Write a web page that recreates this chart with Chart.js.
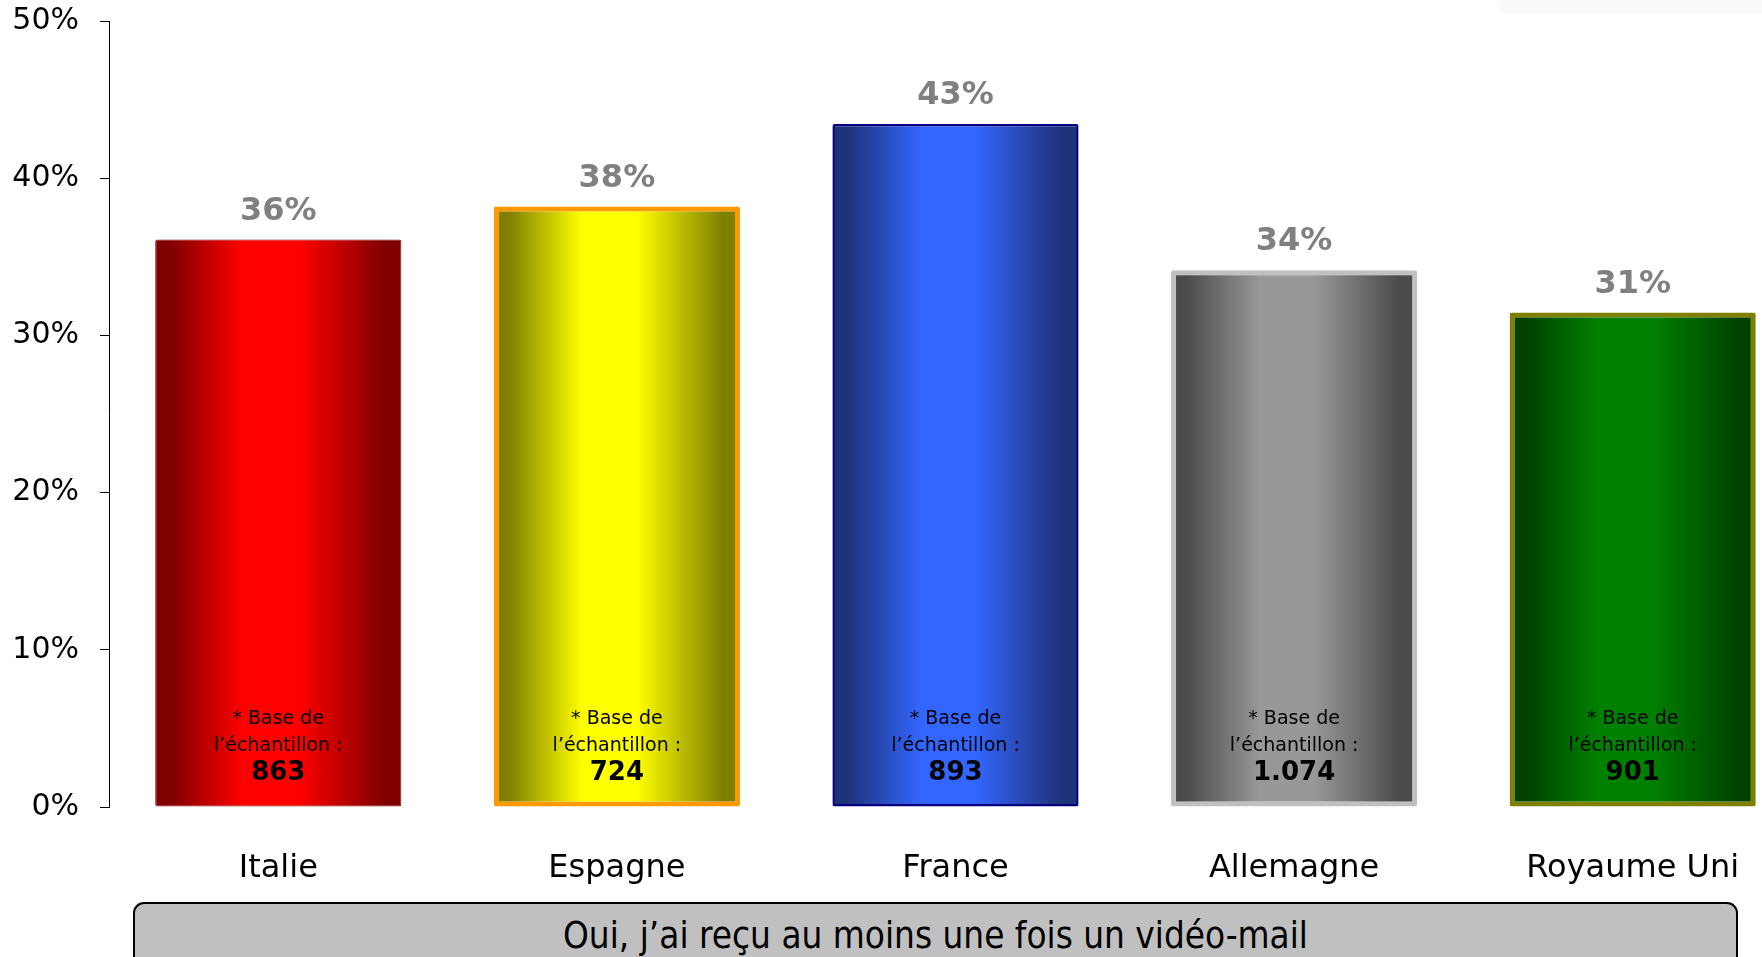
<!DOCTYPE html>
<html><head><meta charset="utf-8">
<script src="https://cdn.jsdelivr.net/npm/chart.js@4.4.1/dist/chart.umd.min.js"></script>
<style>
html,body{margin:0;padding:0;background:#fff;width:1762px;height:957px;overflow:hidden;position:relative;}
#wrap{position:absolute;left:0;top:0;width:1802px;height:957px;}
#faint{position:absolute;left:1499px;top:0;width:263px;height:13px;background:#FAFAFA;}
#box{position:absolute;left:133px;top:902px;width:1605px;height:90px;box-sizing:border-box;background:#C0C0C0;border:2px solid #000;border-radius:11px;}
#boxText{position:absolute;left:0;right:0;top:12px;text-align:center;font-family:'DejaVu Sans',sans-serif;font-size:38px;line-height:38px;color:#000;transform:scaleX(0.865);white-space:nowrap;}
</style>
</head><body>
<div id="faint"></div>
<div id="wrap"><canvas id="c" width="1802" height="957"></canvas></div>
<div id="box"><div id="boxText">Oui, j’ai reçu au moins une fois un vidéo-mail</div></div>
<script>
const categories = ['Italie', 'Espagne', 'France', 'Allemagne', 'Royaume Uni'];
const values = [36.1, 38.2, 43.45, 34.15, 31.45];
const sampleSizes = ['863', '724', '893', '1.074', '901'];
const yTickValues = [0, 10, 20, 30, 40, 50];

const edgeColors = ['#800000', '#7F7F00', '#1E3278', '#4A4A4A', '#004000'];
const centerColors = ['#FF0000', '#FFFF00', '#3366FF', '#989898', '#008000'];
const borderColors = ['#800000', '#FF9900', '#000080', '#C0C0C0', '#808000'];
const borderWidths = [1, 5, 2.5, 5, 5];
const barPct = 0.727;
const FONT = "'DejaVu Sans', sans-serif";

function barGradient(c) {
  const chart = c.chart, i = c.dataIndex;
  if (!chart.chartArea || !chart.scales.x) return centerColors[i];
  const xs = chart.scales.x;
  const cx = xs.getPixelForValue(i);
  const half = xs.width / categories.length * barPct / 2;
  const g = chart.ctx.createLinearGradient(cx - half, 0, cx + half, 0);
  const e = edgeColors[i], m = centerColors[i];
  g.addColorStop(0, e); g.addColorStop(0.06, e);
  g.addColorStop(0.36, m); g.addColorStop(0.58, m);
  g.addColorStop(0.93, e); g.addColorStop(1, e);
  return g;
}

const labelPlugin = {
  id: 'barTexts',
  afterDatasetsDraw(chart) {
    const ctx = chart.ctx;
    const meta = chart.getDatasetMeta(0);
    meta.data.forEach((bar, i) => {
      ctx.save();
      ctx.textAlign = 'center';
      ctx.textBaseline = 'middle';
      ctx.fillStyle = '#808080';
      ctx.font = 'bold 32px ' + FONT;
      ctx.fillText(Math.round(values[i]) + '%', bar.x, bar.y - 28);
      ctx.fillStyle = '#000';
      ctx.font = '19px ' + FONT;
      ctx.fillText('* Base de', bar.x, bar.base - 87);
      ctx.fillText('l’échantillon :', bar.x, bar.base - 60);
      ctx.font = 'bold 26px ' + FONT;
      ctx.fillText(sampleSizes[i], bar.x, bar.base - 33);
      ctx.restore();
    });
  }
};

new Chart(document.getElementById('c'), {
  type: 'bar',
  data: {
    labels: categories,
    datasets: [{
      data: values,
      backgroundColor: barGradient,
      borderColor: borderColors,
      borderWidth: borderWidths,
      borderSkipped: false,
      borderRadius: 2,
      categoryPercentage: 1,
      barPercentage: barPct
    }]
  },
  options: {
    responsive: false,
    devicePixelRatio: 1,
    animation: false,
    layout: { padding: { top: 21, right: 0, bottom: 0, left: 0 } },
    plugins: { legend: { display: false }, tooltip: { enabled: false } },
    scales: {
      x: {
        grid: { display: false, drawTicks: false },
        border: { display: false },
        ticks: { color: '#000', font: { family: FONT, size: 32 }, padding: 42 },
        afterFit(s) { s.height = 957 - 807; s.paddingLeft = 0; s.paddingRight = 0; }
      },
      y: {
        min: 0, max: 50,
        afterBuildTicks(s) { s.ticks = yTickValues.map(v => ({ value: v })); },
        ticks: { color: '#000', font: { family: FONT, size: 30 }, padding: 21, callback: v => v + '%' },
        grid: { drawOnChartArea: false, drawTicks: true, tickLength: 9, color: '#000', lineWidth: 1 },
        border: { display: true, color: '#000', width: 1 },
        afterFit(s) { s.width = 109; s.paddingTop = 0; s.paddingBottom = 0; }
      }
    }
  },
  plugins: [labelPlugin]
});
</script>
</body></html>
